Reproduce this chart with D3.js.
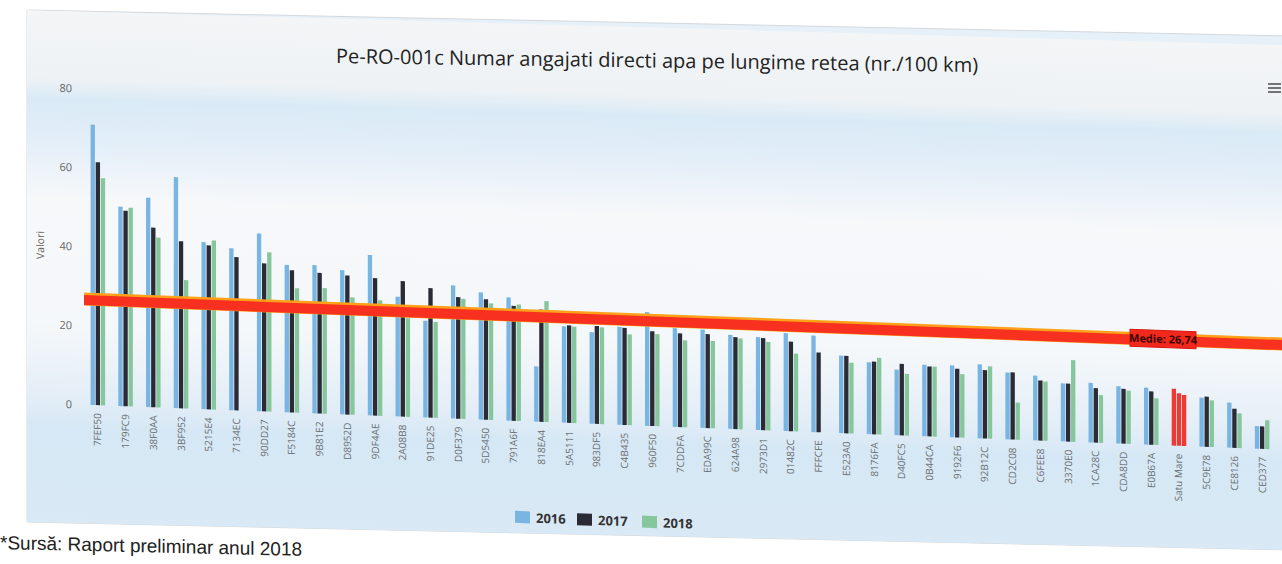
<!DOCTYPE html>
<html>
<head>
<meta charset="utf-8">
<title>Pe-RO-001c</title>
<script src="https://cdnjs.cloudflare.com/ajax/libs/d3/7.8.5/d3.min.js"></script>
<style>
body { margin: 0; background: #fff; }
svg { display: block; font-family: "Open Sans", sans-serif; }
</style>
</head>
<body>
<svg id="chart" width="1282" height="564"></svg>
<script>
var categories = ["7FEF50","179FC9","38F0AA","3BF952","5215E4","7134EC","90DD27","F5184C","9B81E2","D8952D",
  "9DF4AE","2A08B8","91DE25","D0F379","5D5450","791A6F","818EA4","5A5111","983DF5","C4B435",
  "960F50","7CDDFA","EDA99C","624A98","2973D1","01482C","FFFCFE","E523A0","8176FA","D40FC5",
  "0B44CA","9192F6","92B12C","CD2C08","C6FEE8","3370E0","1CA28C","CDA8DD","E0B67A","Satu Mare",
  "5C9E78","CE8126","CED377"];

var values2016 = [71, 50.5, 53, 58.5, 42.3, 41, 45, 37.3, 37.5, 36.5,
  40.6, 30.3, 24.5, 33.7, 32.2, 31.2, 14, 24.4, 23.2, 24.8,
  28.8, 25, 24.9, 23.8, 23.5, 24.8, 24.4, 19.6, 18.2, 16.6,
  18.1, 18.2, 18.7, 16.9, 16.4, 14.7, 15.1, 14.5, 14.4, 14.4,
  12.4, 11.4, 5.7];
var values2017 = [61.5, 49.5, 45.5, 42.3, 41.5, 38.8, 37.5, 36, 35.6, 35.2,
  34.8, 34.3, 32.8, 30.8, 30.5, 29.1, 28.4, 24.7, 24.8, 24.6,
  24, 23.7, 23.8, 23.3, 23.3, 22.7, 20.2, 19.6, 18.4, 18.1,
  17.7, 17.4, 17.3, 17, 15.2, 14.7, 13.8, 13.9, 13.5, 13.3,
  12.7, 9.9, 5.7];
var values2018 = [57.5, 50.3, 43, 32.5, 42.8, null, 40.3, 31.5, 31.8, 29.7,
  29.2, 25, 24.3, 30.4, 29.5, 29.5, 30.6, 24.4, 24.5, 23,
  23.3, 22, 22.1, 23, 22.4, 19.7, null, 17.9, 19.4, 15.6,
  17.7, 16.1, 18.3, 9.4, 15, 20.7, 12.1, 13.5, 11.8, 12.9,
  11.8, 8.8, 7.3];

var years = ["2016", "2017", "2018"];
var yearValues = [values2016, values2017, values2018];
var yTicks = [0, 20, 40, 60, 80];
var medie = 26.74;
var medieLabel = "Medie: 26,74";
var highlighted = "Satu Mare";
var title = "Pe-RO-001c Numar angajati directi apa pe lungime retea (nr./100 km)";
var yTitle = "Valori";
var footer = "*Sursă: Raport preliminar anul 2018";

var svg = d3.select("#chart");
var defs = svg.append("defs");

// the scanned page is slightly skewed: horizontals drop toward the right
function skew(deg, ox) {
  var t = Math.tan(deg * Math.PI / 180);
  return "translate(0," + (-ox * t) + ") skewY(" + deg + ")";
}

var colour = d3.scaleOrdinal().domain(years).range(["#78b5e3", "#2b2b36", "#86c69c"]);

// container background
var containerPts = [[27, 10], [1290, 36], [1290, 550], [27, 522]];
defs.append("clipPath").attr("id", "box")
  .append("polygon").attr("points", containerPts.join(" "));

var grad = defs.append("linearGradient").attr("id", "bg")
  .attr("gradientUnits", "userSpaceOnUse")
  .attr("x1", 0).attr("y1", 10).attr("x2", 0).attr("y2", 530);
[[0, "#f3f5f6"], [0.13, "#eef2f5"], [0.17, "#d9eaf6"], [0.25, "#e3eef8"], [0.36, "#f6f8fa"],
 [0.6, "#f5f8fa"], [0.74, "#e4eef7"], [0.8, "#d6e8f5"], [1, "#d9e9f5"]]
  .forEach(function(s) {
    grad.append("stop").attr("offset", s[0]).attr("stop-color", s[1]);
  });

svg.append("polygon")
  .attr("points", containerPts.join(" "))
  .attr("fill", "#e6f0f8")
  .attr("stroke", "#d4d8dc");

var plot = svg.append("g").attr("transform", skew(2.15, 66));

svg.insert("g", "g").attr("clip-path", "url(#box)")
  .append("rect")
  .attr("transform", skew(1.6, 27))
  .attr("x", 27).attr("y", 10).attr("width", 1270).attr("height", 520)
  .attr("fill", "url(#bg)");

// scales
var x0 = d3.scaleBand()
  .domain(categories)
  .range([84, 1276])
  .paddingInner(0.42)
  .paddingOuter(0.21);

var x1 = d3.scaleBand()
  .domain(years)
  .range([0, x0.bandwidth()])
  .padding(0.15);

var y = d3.scaleLinear()
  .domain([0, 80])
  .range([404, 88]);

// y axis labels
plot.selectAll(".ytick")
  .data(yTicks)
  .enter().append("text")
  .attr("class", "ytick")
  .attr("x", 72)
  .attr("y", function(d) { return y(d) + 4; })
  .attr("text-anchor", "end")
  .attr("font-size", 11)
  .attr("fill", "#666")
  .text(function(d) { return d; });

plot.append("text")
  .attr("transform", "translate(44," + y(40) + ") rotate(-90)")
  .attr("text-anchor", "middle")
  .attr("font-size", 10.5)
  .attr("fill", "#666")
  .text(yTitle);

// bars
var groups = plot.selectAll(".grp")
  .data(categories)
  .enter().append("g")
  .attr("class", "grp")
  .attr("transform", function(d) { return "translate(" + x0(d) + ",0)"; });

groups.selectAll("rect")
  .data(function(c, i) {
    return years.map(function(yr, k) {
      return { cat: c, year: yr, value: yearValues[k][i] };
    }).filter(function(d) { return d.value != null; });
  })
  .enter().append("rect")
  .attr("x", function(d) { return x1(d.year); })
  .attr("width", x1.bandwidth())
  .attr("y", function(d) { return y(d.value); })
  .attr("height", function(d) { return y(0) - y(d.value); })
  .attr("fill", function(d) { return d.cat === highlighted ? "#ee3a32" : colour(d.year); });

// category labels
plot.selectAll(".xlab")
  .data(categories)
  .enter().append("text")
  .attr("class", "xlab")
  .attr("transform", function(d) {
    return "translate(" + (x0(d) + x0.bandwidth() / 2 + 3.5) + "," + (y(0) + 8) + ") rotate(-90)";
  })
  .attr("text-anchor", "end")
  .attr("font-size", 10)
  .attr("fill", "#6a6e72")
  .text(function(d) { return d; });

// average line
plot.append("line")
  .attr("x1", 84).attr("x2", 1300)
  .attr("y1", y(medie)).attr("y2", y(medie))
  .attr("stroke", "#ffa21a")
  .attr("stroke-width", 13);
plot.append("line")
  .attr("x1", 84).attr("x2", 1300)
  .attr("y1", y(medie) + 1).attr("y2", y(medie) + 1)
  .attr("stroke", "#f7301f")
  .attr("stroke-width", 10);

plot.append("rect")
  .attr("x", 1130).attr("y", y(medie) - 9)
  .attr("width", 66).attr("height", 17)
  .attr("fill", "#f2281c")
  .attr("stroke", "#d81810");
plot.append("text")
  .attr("x", 1163).attr("y", y(medie) + 3.5)
  .attr("text-anchor", "middle")
  .attr("font-size", 11)
  .attr("font-weight", "bold")
  .attr("fill", "#3a0500")
  .text(medieLabel);

// legend
var legend = plot.append("g").attr("transform", "translate(515,494)");
var item = legend.selectAll(".leg")
  .data(years)
  .enter().append("g")
  .attr("class", "leg")
  .attr("transform", function(d, i) { return "translate(" + (i * 62 + (i > 1 ? 3 : 0)) + ",0)"; });
item.append("rect")
  .attr("width", 15).attr("height", 12)
  .attr("fill", function(d) { return colour(d); });
item.append("text")
  .attr("x", 21).attr("y", 11)
  .attr("font-size", 13)
  .attr("font-weight", "bold")
  .attr("fill", "#333")
  .text(function(d) { return d; });

// title
svg.append("text")
  .attr("transform", skew(0.8, 330))
  .attr("x", 657).attr("y", 63)
  .attr("text-anchor", "middle")
  .attr("font-size", 20)
  .attr("fill", "#222")
  .text(title);

// menu icon
svg.append("g").attr("transform", "translate(1268,84)")
  .selectAll("line")
  .data([0, 1, 2])
  .enter().append("line")
  .attr("x1", 0).attr("x2", 13)
  .attr("y1", function(d) { return d * 4; })
  .attr("y2", function(d) { return d * 4; })
  .attr("stroke", "#666")
  .attr("stroke-width", 1.8);

// footer note under the chart
svg.append("text")
  .attr("transform", skew(1.3, 0))
  .attr("x", 0).attr("y", 549)
  .attr("font-family", "'Liberation Sans', Arial, sans-serif")
  .attr("font-size", 19)
  .attr("fill", "#222")
  .text(footer);
</script>
</body>
</html>
